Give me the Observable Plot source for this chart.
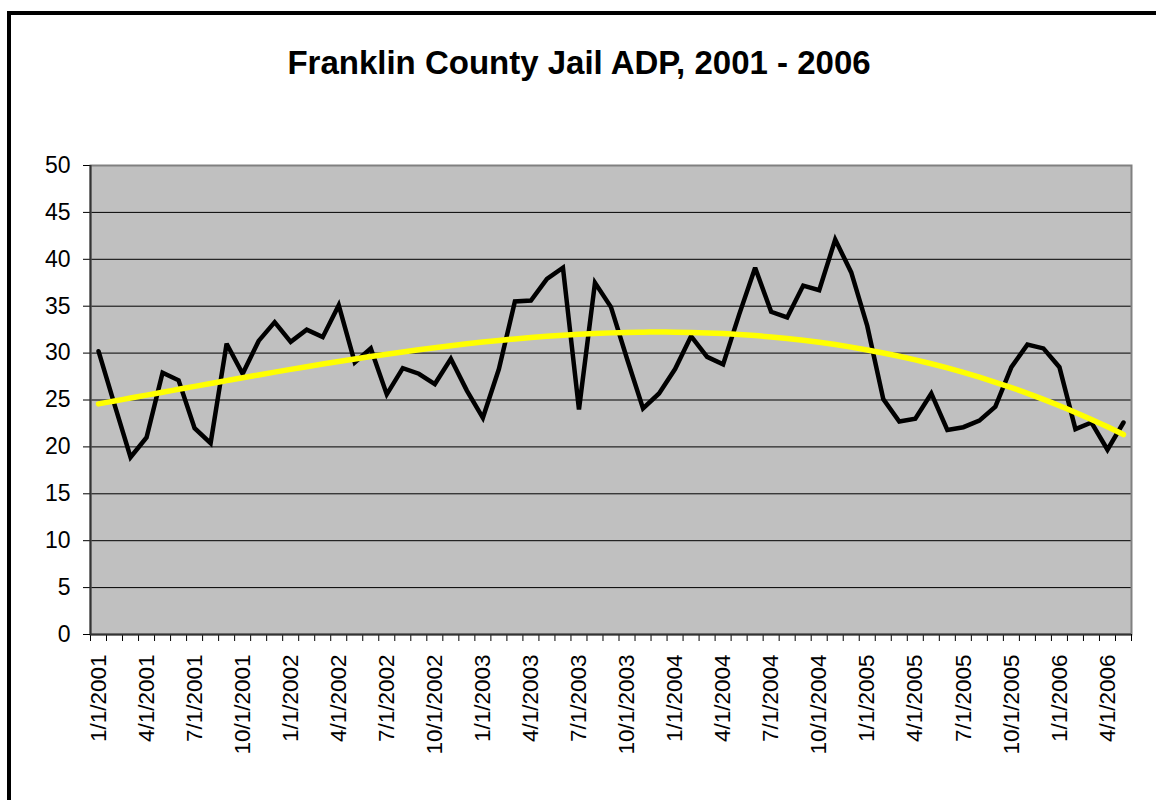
<!DOCTYPE html>
<html><head><meta charset="utf-8">
<script src="https://cdn.jsdelivr.net/npm/d3@7"></script>
<script src="https://cdn.jsdelivr.net/npm/@observablehq/plot@0.6"></script>
<style>
body{margin:0;background:#fff;}
#wrap{position:relative;width:1156px;height:800px;overflow:hidden;font-family:"Liberation Sans",Arial,sans-serif;}
#frame{position:absolute;left:7px;top:11px;width:1300px;height:1000px;border-left:4px solid #000;border-top:4px solid #000;box-sizing:border-box;pointer-events:none;}
#title{position:absolute;left:0;top:46px;width:1158px;text-align:center;font-weight:bold;font-size:33px;line-height:33px;color:#000;}
#chart{position:absolute;left:0;top:100px;}
</style></head>
<body>
<div id="wrap">
  <div id="frame"></div>
  <div id="title">Franklin County Jail ADP, 2001 - 2006</div>
  <div id="chart"></div>
</div>
<script>
// Monthly average daily population, 1/2001 .. 5/2006 (65 months)
const adp = [30.2, 24.5, 18.9, 21.0, 27.9, 27.1, 22.0, 20.4, 31.0, 27.8, 31.3, 33.3,
             31.2, 32.5, 31.7, 35.1, 29.0, 30.5, 25.6, 28.4, 27.8, 26.7, 29.4, 26.0,
             23.1, 28.3, 35.5, 35.6, 37.9, 39.1, 24.0, 37.5, 34.9, 29.4, 24.1, 25.7,
             28.3, 31.8, 29.6, 28.8, 34.1, 39.1, 34.4, 33.8, 37.2, 36.7, 42.1, 38.6,
             32.9, 25.1, 22.7, 23.0, 25.7, 21.8, 22.1, 22.8, 24.3, 28.5, 30.9, 30.5,
             28.5, 21.9, 22.6, 19.7, 22.6];
// x tick labels, every third month
const tickLabels = ["1/1/2001","4/1/2001","7/1/2001","10/1/2001",
                    "1/1/2002","4/1/2002","7/1/2002","10/1/2002",
                    "1/1/2003","4/1/2003","7/1/2003","10/1/2003",
                    "1/1/2004","4/1/2004","7/1/2004","10/1/2004",
                    "1/1/2005","4/1/2005","7/1/2005","10/1/2005",
                    "1/1/2006","4/1/2006"];
const yTicks = [0,5,10,15,20,25,30,35,40,45,50];

const data = adp.map((v, i) => ({i, v}));
const n = adp.length;

// polynomial least-squares trendline (order 3), like Excel's trendline
function polyFit(xs, ys, order) {
  const m = order + 1;
  const A = Array.from({length: m}, () => new Array(m + 1).fill(0));
  xs.forEach((x0, k) => {
    const x = x0 / 64;
    for (let r = 0; r < m; r++) {
      for (let c = 0; c < m; c++) A[r][c] += x ** (r + c);
      A[r][m] += ys[k] * x ** r;
    }
  });
  for (let col = 0; col < m; col++) {
    let piv = col;
    for (let r = col + 1; r < m; r++) if (Math.abs(A[r][col]) > Math.abs(A[piv][col])) piv = r;
    [A[col], A[piv]] = [A[piv], A[col]];
    for (let r = 0; r < m; r++) {
      if (r === col) continue;
      const fct = A[r][col] / A[col][col];
      for (let c = col; c <= m; c++) A[r][c] -= fct * A[col][c];
    }
  }
  const coef = A.map((row, r) => row[m] / row[r]);
  return x0 => coef.reduce((s, c, p) => s + c * (x0 / 64) ** p, 0);
}
const f = polyFit(data.map(d => d.i), adp, 3);
const trend = data.map(d => ({i: d.i, v: f(d.i)}));

const boundaries = d3.range(0, n + 1).map(k => k - 0.5);
const labelIdx = tickLabels.map((_, k) => k * 3);

const chart = Plot.plot({
  width: 1156,
  height: 700,
  marginTop: 65,
  marginBottom: 166,
  marginLeft: 90,
  marginRight: 25,
  style: {fontFamily: '"Liberation Sans", Arial, sans-serif', fontSize: "22px", color: "#000", background: "transparent", overflow: "visible"},
  x: {domain: [-0.5, n - 0.5], axis: null},
  y: {domain: [0, 50], axis: null},
  marks: [
    Plot.frame({fill: "#c0c0c0", stroke: null}),
    Plot.gridY(yTicks.slice(1, -1), {stroke: "#000", strokeOpacity: 1, strokeWidth: 1}),
    Plot.frame({stroke: "#808080", strokeWidth: 2}),
    Plot.axisY({ticks: yTicks, tickSize: 7, tickPadding: 13, fontSize: 23, stroke: "#000", label: null}),
    Plot.axisX({ticks: boundaries, tickSize: 7, tickFormat: () => "", stroke: "#000", label: null}),
    Plot.axisX({ticks: labelIdx, tickSize: 0, tickPadding: 20, tickRotate: -90, fontSize: 22.5, label: null,
                tickFormat: i => tickLabels[Math.round(i / 3)]}),
    Plot.ruleX([-0.5], {stroke: "#333", strokeWidth: 2}),
    Plot.ruleY([0], {stroke: "#333", strokeWidth: 2}),
    Plot.line(data, {x: "i", y: "v", stroke: "#000", strokeWidth: 4.5, strokeLinejoin: "miter", strokeMiterlimit: 3}),
    Plot.line(trend, {x: "i", y: "v", stroke: "#ffff00", strokeWidth: 5.5, curve: "natural"})
  ]
});
document.getElementById("chart").appendChild(chart);
</script>
</body></html>
